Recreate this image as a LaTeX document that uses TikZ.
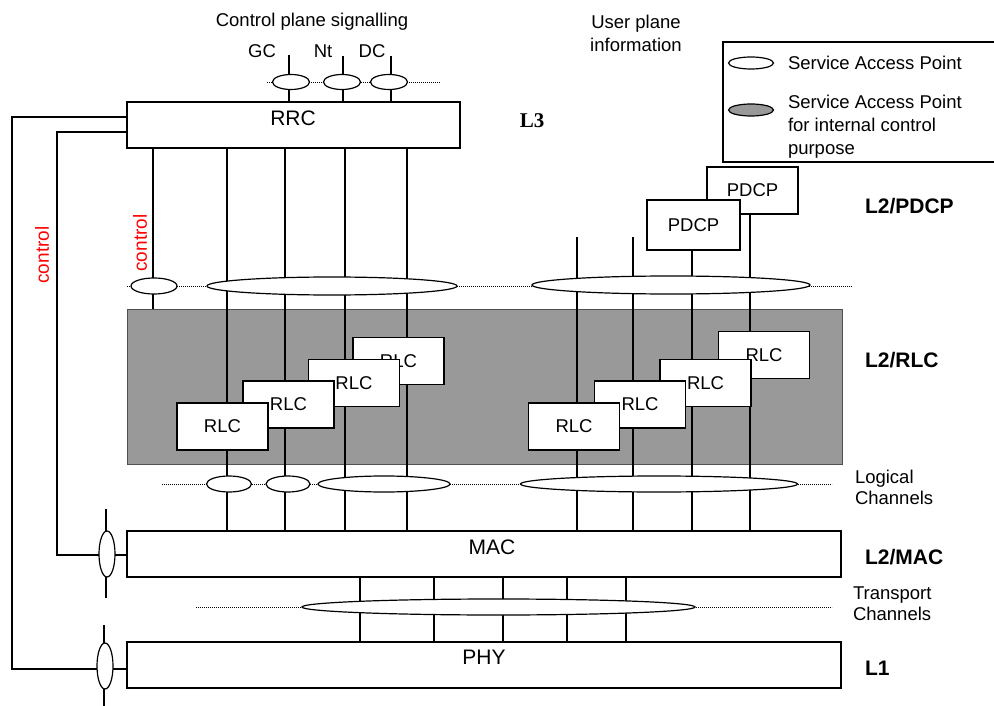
\documentclass[tikz,border=0pt]{standalone}
\usepackage{fontspec}
\setmainfont{Liberation Sans}
\newfontfamily\timesfont{Liberation Serif}
\usetikzlibrary{shapes.geometric}
\definecolor{rlcgray}{RGB}{153,153,153}
\definecolor{rlcedge}{RGB}{80,80,80}
\definecolor{ctrlred}{RGB}{255,0,0}
\begin{document}
\begin{tikzpicture}[x=1pt,y=-1pt,
  every node/.style={inner sep=0pt, outer sep=0pt},
  wire/.style={line width=1.2pt},
  dots/.style={line width=0.9pt, dash pattern=on 0.9pt off 1.1pt},
  box/.style={draw, fill=white, line width=1.3pt, rectangle},
  rlcbox/.style={box, minimum width=91, minimum height=47, font=\fontsize{18.5}{22}\selectfont},
  sap/.style={draw, fill=white, ellipse, line width=1.2pt},
  txt/.style={font=\fontsize{18.5}{22}\selectfont},
  big/.style={font=\fontsize{21}{24}\selectfont},
  lbl/.style={font=\fontsize{21}{24}\selectfont\bfseries, anchor=west},
  ctl/.style={font=\fontsize{19}{22}\selectfont, text=ctrlred, rotate=90}
]
\useasboundingbox (0,0) rectangle (994,706);
\fill[white] (0,0) rectangle (994,706);

% ---------- main boxes ----------
\node[box, minimum width=333, minimum height=46] (rrc) at (293.5,125) {};
\node[big] (rrct) at (293,118) {RRC};
\node[draw=rlcedge, fill=rlcgray, line width=1pt, minimum width=715, minimum height=155, anchor=north west] (rlcbg) at (127,309) {};
\node[box, minimum width=714, minimum height=46] (mac) at (484,554) {};
\node[big] (mact) at (492,547) {MAC};
\node[box, minimum width=714, minimum height=46] (phy) at (484,665) {};
\node[big] (phyt) at (484,657) {PHY};

% ---------- column coordinates ----------
\coordinate (colz) at (153,0);
\coordinate (cola) at (227,0);
\coordinate (colb) at (285,0);
\coordinate (colc) at (345,0);
\coordinate (cold) at (407,0);
\coordinate (cole) at (577,0);
\coordinate (colf) at (633,0);
\coordinate (colg) at (692,0);
\coordinate (colh) at (750,0);
\coordinate (upstart) at (0,237);

% ---------- PDCP ----------
\node[box, minimum width=91, minimum height=47, txt] (pdcpb) at (752.5,190.5) {PDCP};
\node[box, minimum width=93, minimum height=50, txt] (pdcpa) at (693.5,225) {PDCP};

% ---------- vertical lines ----------
\draw[wire] (colz |- rrc.south) -- (colz |- rlcbg.north);
\foreach \c in {cola,colb,colc,cold}
  \draw[wire] (\c |- rrc.south) -- (\c |- mac.north);
\draw[wire] (cole |- upstart) -- (cole |- mac.north);
\draw[wire] (colf |- upstart) -- (colf |- mac.north);
\draw[wire] (colg |- pdcpa.south) -- (colg |- mac.north);
\draw[wire] (colh |- pdcpb.south) -- (colh |- mac.north);

% transport channel lines
\foreach \x [count=\i] in {360,434,503,567,626}
  \coordinate (tr\i) at (\x,0);
\foreach \i in {1,...,5}
  \draw[wire] (tr\i |- mac.south) -- (tr\i |- phy.north);

% ---------- dotted SAP rows ----------
\coordinate (d1a) at (267,82);  \coordinate (d1b) at (440,82);
\coordinate (d2a) at (127,286); \coordinate (d2b) at (852,286);
\coordinate (d3a) at (162,484); \coordinate (d3b) at (832,484);
\coordinate (d4a) at (196,607); \coordinate (d4b) at (832,607);
\draw[dots] (d1a) -- (d1b);
\draw[dots] (d2a) -- (d2b);
\draw[dots] (d3a) -- (d3b);
\draw[dots] (d4a) -- (d4b);

% ---------- SAP ellipses ----------
\node[sap, minimum width=46, minimum height=16] (s2a) at (154,286) {};
\node[sap, minimum width=250, minimum height=18] (s2b) at (332,286) {};
\node[sap, minimum width=278, minimum height=18] (s2c) at (671,285) {};
\node[sap, minimum width=45, minimum height=16] (s3a) at (229,484) {};
\node[sap, minimum width=44, minimum height=16] (s3b) at (288,484) {};
\node[sap, minimum width=132, minimum height=16] (s3c) at (384,484) {};
\node[sap, minimum width=277, minimum height=16] (s3d) at (659,484) {};
\node[sap, minimum width=393, minimum height=16] (s4) at (498.5,607) {};

% top SAPs
\node[sap, minimum width=37, minimum height=15] (gc) at (291,82) {};
\node[sap, minimum width=37, minimum height=15] (nt) at (342,82) {};
\node[sap, minimum width=37, minimum height=15] (dc) at (389,82) {};
\coordinate (gctop) at (289,55);
\coordinate (nttop) at (343,56);
\coordinate (dctop) at (391,56);
\draw[wire] (gctop) -- (gctop |- gc.north);
\draw[wire] (gctop |- gc.south) -- (gctop |- rrc.north);
\draw[wire] (nttop) -- (nttop |- nt.north);
\draw[wire] (nttop |- nt.south) -- (nttop |- rrc.north);
\draw[wire] (dctop) -- (dctop |- dc.north);
\draw[wire] (dctop |- dc.south) -- (dctop |- rrc.north);
\node[txt] (gcl) at (262,51) {GC};
\node[txt] (ntl) at (323,51) {Nt};
\node[txt] (dcl) at (372,51) {DC};
\node[txt] (cps) at (312,22) {Control plane signalling};

% ---------- RLC boxes ----------
\node[rlcbox] (rl4) at (398.5,361) {RLC};
\node[rlcbox] (rl3) at (354,383) {RLC};
\node[rlcbox] (rl2) at (288.5,404.5) {RLC};
\node[rlcbox] (rl1) at (222.5,426.5) {RLC};
\node[rlcbox] (rr4) at (764,355) {RLC};
\node[rlcbox] (rr3) at (705.5,383) {RLC};
\node[rlcbox] (rr2) at (640,404.5) {RLC};
\node[rlcbox] (rr1) at (574,426.5) {RLC};

% ---------- control lines ----------
\coordinate (o1) at (12,117);  \coordinate (o2) at (12,669);
\coordinate (i1) at (57,132);  \coordinate (i2) at (57,555);
\draw[wire] (o1 -| rrc.west) -- (o1) -- (o2) -- (o2 -| phy.west);
\draw[wire] (i1 -| rrc.west) -- (i1) -- (i2) -- (i2 -| mac.west);
\node[sap, minimum width=16, minimum height=46] (sapm) at (107,554) {};
\node[sap, minimum width=16, minimum height=46] (sapp) at (105,666) {};
\coordinate (smt) at (106,509); \coordinate (smb) at (106,598);
\coordinate (spt) at (104,625); \coordinate (spb) at (104,706);
\draw[wire] (smt) -- (smt |- sapm.north);
\draw[wire] (smb) -- (smb |- sapm.south);
\draw[wire] (spt) -- (spt |- sapp.north);
\draw[wire] (spb) -- (spb |- sapp.south);
\node[ctl] (ctl1) at (140,243) {control};
\node[ctl] (ctl2) at (42,255) {control};

% ---------- labels ----------
\node[txt, align=center, font=\fontsize{18.5}{23}\selectfont] (upi) at (636,33) {User plane\\information};
\node[font=\fontsize{21}{24}\selectfont\timesfont\bfseries] (l3) at (532,121) {L3};
\node[lbl] (l2p) at (865,206) {L2/PDCP};
\node[lbl] (l2r) at (865,360) {L2/RLC};
\node[lbl] (l2m) at (865,557) {L2/MAC};
\node[lbl] (l1) at (865,668) {L1};
\node[txt, align=left, anchor=west, font=\fontsize{18.5}{21}\selectfont] (logc) at (855,487) {Logical\\Channels};
\node[txt, align=left, anchor=west, font=\fontsize{18.5}{21}\selectfont] (trc) at (853,604) {Transport\\Channels};

% ---------- legend ----------
\begin{scope}
\clip (0,0) rectangle (994,706);
\node[draw, line width=1.3pt, minimum width=290, minimum height=120, anchor=north west] (legend) at (723,42) {};
\end{scope}
\node[sap, minimum width=45, minimum height=12] (lg1) at (751,63) {};
\node[sap, fill=rlcgray, minimum width=45, minimum height=12] (lg2) at (751,110) {};
\node[txt, anchor=west] (lgt1) at (788,63) {Service Access Point};
\node[txt, anchor=west, align=left, font=\fontsize{18.5}{23}\selectfont] (lgt2) at (788,127) {Service Access Point\\for internal control\\purpose};
\end{tikzpicture}
\end{document}
